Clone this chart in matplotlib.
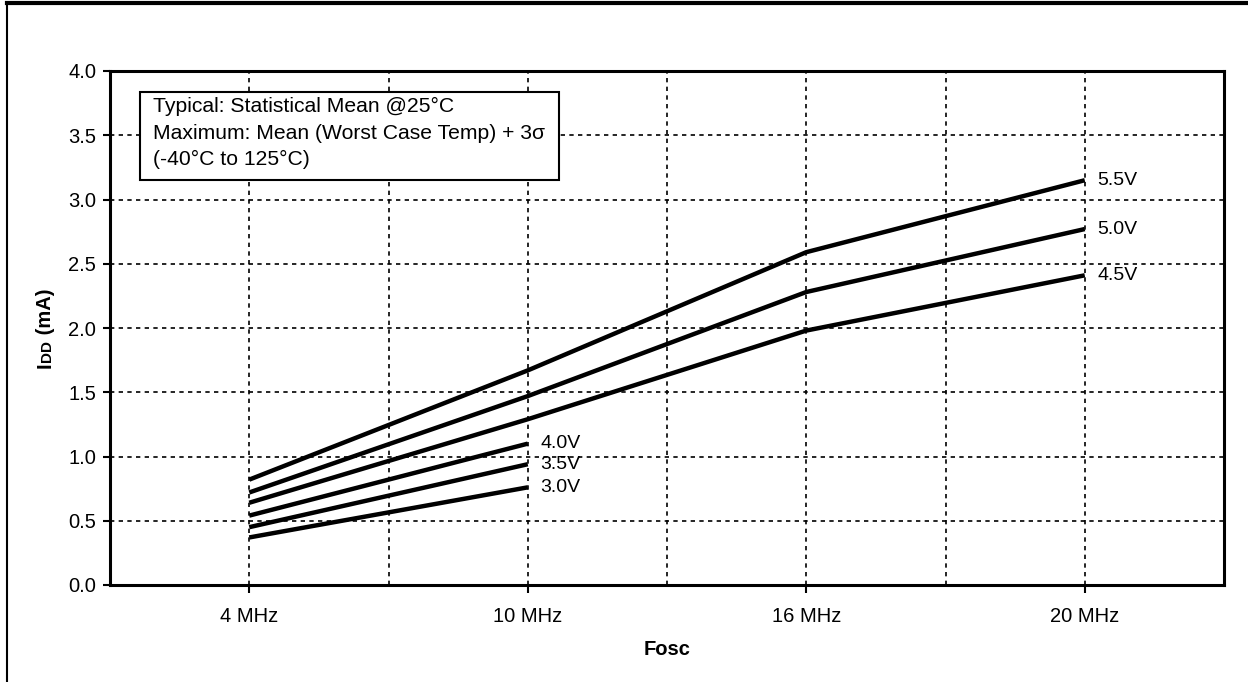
import matplotlib
matplotlib.use("Agg")
import matplotlib.pyplot as plt
from matplotlib.lines import Line2D
from matplotlib.patches import Rectangle

plt.rcParams['font.family'] = ['Liberation Sans', 'DejaVu Sans']

# -----------------------------
# Data
# -----------------------------
freq_labels = ["4 MHz", "10 MHz", "16 MHz", "20 MHz"]

idd_55 = [0.82, 1.67, 2.59, 3.15]
idd_50 = [0.72, 1.47, 2.28, 2.77]
idd_45 = [0.64, 1.29, 1.98, 2.41]
idd_40 = [0.54, 1.10]
idd_35 = [0.45, 0.94]
idd_30 = [0.37, 0.76]

series = [("5.5V", idd_55), ("5.0V", idd_50), ("4.5V", idd_45),
          ("4.0V", idd_40), ("3.5V", idd_35), ("3.0V", idd_30)]

y_ticks = [0.0, 0.5, 1.0, 1.5, 2.0, 2.5, 3.0, 3.5, 4.0]

note = ("Typical: Statistical Mean @25\u00b0C\n"
        "Maximum: Mean (Worst Case Temp) + 3\u03c3\n"
        "(-40\u00b0C to 125\u00b0C)")

# -----------------------------
# Figure
# -----------------------------
W, H = 1248, 682
fig = plt.figure(figsize=(W / 100, H / 100), dpi=100)
ax = fig.add_axes([110 / W, 1 - 585 / H, (1224 - 110) / W, (585 - 71) / H])

# outer frame (only top and left edges are visible)
fig.add_artist(Line2D([7 / W, 7 / W], [0, 1 - 3 / H], transform=fig.transFigure,
                      color="black", lw=1.5))
fig.add_artist(Line2D([7 / W, 1], [1 - 3 / H, 1 - 3 / H], transform=fig.transFigure,
                      color="black", lw=3))

grid_style = dict(color="black", lw=1.2, linestyle=(0, (2.6, 2.6)), zorder=1)
for yv in y_ticks[1:-1]:
    ax.axhline(yv, **grid_style)
for xv in [0, 0.5, 1, 1.5, 2, 2.5, 3]:
    ax.axvline(xv, **grid_style)

for name, vals in series:
    xs = list(range(len(vals)))
    ax.plot(xs, vals, color="black", lw=3.2, solid_capstyle="butt", zorder=3)
    ax.annotate(name, (xs[-1], vals[-1]), xytext=(9, 0), textcoords="offset points",
                va="center", ha="left", fontsize=14)

ax.set_xlim(-0.5, 3.5)
ax.set_ylim(0, 4)
ax.set_xticks(range(len(freq_labels)))
ax.set_xticklabels(freq_labels)
ax.set_yticks(y_ticks)
ax.set_yticklabels([f"{v:.1f}" for v in y_ticks])
ax.tick_params(axis="x", direction="out", length=6, width=1.5, pad=10, labelsize=14.5)
ax.tick_params(axis="y", direction="out", length=5, width=1.5, pad=5, labelsize=14.5)
for sp in ax.spines.values():
    sp.set_linewidth(2.2)
    sp.set_zorder(4)

ax.set_xlabel("Fosc", fontweight="bold", fontsize=14.5, labelpad=10)

# y label "IDD (mA)" with small-cap DD, built from pieces stacked upward
renderer = fig.canvas.get_renderer()
ylab_x = 51 / W
y_cur = 1 - 368 / H
for txt, size in [("I", 14.5), ("DD", 11), (" (mA)", 14.5)]:
    t = fig.text(ylab_x, y_cur, txt, rotation=90, fontsize=size, fontweight="bold",
                 ha="left", va="baseline", rotation_mode="anchor")
    bb = t.get_window_extent(renderer)
    y_cur += bb.height / H

# note box
box = Rectangle((30 / 1114, (585 - 180) / 514), 419 / 1114, 88 / 514,
                transform=ax.transAxes, facecolor="white", edgecolor="black",
                lw=1.5, zorder=5)
ax.add_patch(box)
ax.text(43 / 1114, (585 - 97) / 514, note, transform=ax.transAxes, fontsize=15.2,
        va="top", ha="left", linespacing=1.5, zorder=6)

fig.savefig("out.png", dpi=100)
